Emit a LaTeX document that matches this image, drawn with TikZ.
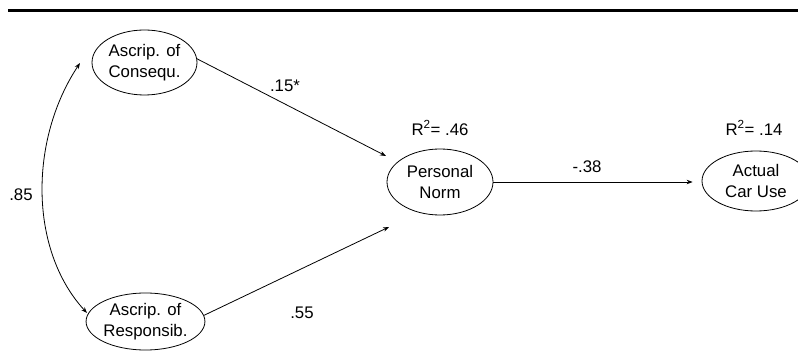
\documentclass[tikz,border=0pt]{standalone}
\usepackage{fontspec}
\setmainfont{Liberation Sans}
\usetikzlibrary{shapes.geometric,arrows.meta}
\begin{document}
\begin{tikzpicture}[x=1pt,y=-1pt,
  var/.style={ellipse,draw,line width=0.8pt,minimum width=105pt,inner sep=0pt,align=center,font=\fontsize{16.8}{21}\selectfont},
  lbl/.style={inner sep=0pt,font=\fontsize{16.8}{20}\selectfont},
  conn/.style={line width=0.8pt,-{Stealth[length=6pt,width=4.5pt]}},
  both/.style={line width=0.8pt,{Stealth[length=6pt,width=4.5pt]}-{Stealth[length=6pt,width=4.5pt]}}]
\useasboundingbox (0,0) rectangle (798,358);
\clip (0,0) rectangle (798,358);
\draw[line width=3pt] (8,11) -- (798,11);
\node[var,minimum height=65pt] (ac) at (144.5,62.5) {Ascrip. of\\Consequ.};
\node[var,minimum height=57pt] (ar) at (145.5,321.5) {Ascrip. of\\Responsib.};
\node[var,minimum width=106pt,minimum height=66pt] (pn) at (440,182) {Personal\\Norm};
\node[var,minimum width=108pt,minimum height=60pt] (cu) at (756,181) {Actual\\Car Use};
\coordinate (ace) at (386,156);
\coordinate (are) at (389,227);
\coordinate (ct) at (80,63);
\coordinate (cb) at (87,313);
\draw[conn] (ac.4) -- (ace);
\draw[conn] (ar.6) -- (are);
\draw[conn,shorten >=9pt] (pn.east) -- (pn.east -| cu.west);
\draw[both] (ct) .. controls (29,140) and (29,250) .. (cb);
\node[lbl] (l15) at (285,86) {.15*};
\node[lbl] (l55) at (302,313) {.55};
\node[lbl] (l85) at (21,195) {.85};
\node[lbl] (l38) at (587,167) {-.38};
\node[lbl] (r1) at (440,128) {R\textsuperscript{2}= .46};
\node[lbl] (r2) at (754,128) {R\textsuperscript{2}= .14};
\end{tikzpicture}
\end{document}
